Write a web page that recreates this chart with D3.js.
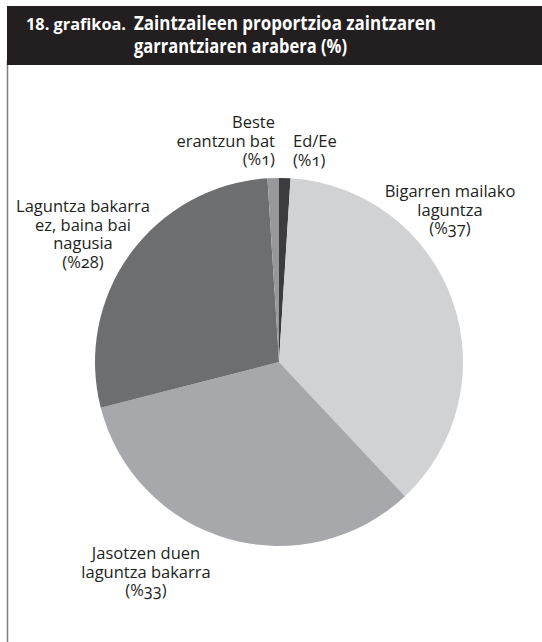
<!DOCTYPE html>
<html>
<head>
<meta charset="utf-8">
<script src="https://cdn.jsdelivr.net/npm/d3@7"></script>
<style>
  html, body { margin: 0; padding: 0; background: #fff; }
  svg { display: block; }
  .lbl { font-family: "Open Sans", "Noto Sans", sans-serif; font-size: 16.5px; fill: #231f20; font-variant-numeric: oldstyle-nums; }
</style>
</head>
<body>
<script>
// ---- data ----
const categories = ["Ed/Ee", "Bigarren mailako laguntza", "Jasotzen duen laguntza bakarra", "Laguntza bakarra ez, baina bai nagusia", "Beste erantzun bat"];
const values = [1, 37, 33, 28, 1];
const labelLines = [
  ["Ed/Ee", "(%1)"],
  ["Bigarren mailako", "laguntza", "(%37)"],
  ["Jasotzen duen", "laguntza bakarra", "(%33)"],
  ["Laguntza bakarra", "ez, baina bai", "nagusia", "(%28)"],
  ["Beste", "erantzun bat", "(%1)"]
];
const titleNumber = "18. grafikoa.";
const titleLines = ["Zaintzaileen proportzioa zaintzaren", "garrantziaren arabera (%)"];

// ---- layout / style (kept separate from data) ----
const W = 542, H = 642;
const colors = ["#3c3c3e", "#d1d2d4", "#a7a8ab", "#6d6e70", "#97989b"];
const labelLayout = [
  { x: 293, y: 147, anchor: "start" },
  { x: 450, y: 197, anchor: "middle" },
  { x: 146, y: 559, anchor: "middle" },
  { x: 83,  y: 212, anchor: "middle" },
  { x: 275, y: 128, anchor: "end" }
];
const lineH = 18.5;

const svg = d3.select("body").append("svg").attr("width", W).attr("height", H);

// frame: left rule and dark title bar
svg.append("line").attr("x1", 7.5).attr("x2", 7.5).attr("y1", 60).attr("y2", H)
  .attr("stroke", "#808080").attr("stroke-width", 1.5);
svg.append("rect").attr("x", 7).attr("y", 6).attr("width", W - 7).attr("height", 59).attr("fill", "#231f20");

const tf = '"Open Sans", "Noto Sans", sans-serif';
svg.append("text").attr("x", 26).attr("y", 30).attr("fill", "#fff")
  .attr("font-family", tf).attr("font-weight", 700).attr("font-size", 15.5)
  .attr("textLength", 100).attr("lengthAdjust", "spacingAndGlyphs")
  .text(titleNumber);
const tl = [302, 213];
titleLines.forEach((t, i) => {
  svg.append("text").attr("x", 134).attr("y", 30 + i * 23).attr("fill", "#fff")
    .attr("font-family", tf).attr("font-weight", 700).attr("font-size", 20)
    .attr("textLength", tl[i]).attr("lengthAdjust", "spacingAndGlyphs")
    .text(t);
});

// pie
const cx = 279, cy = 362, r = 184;
const pie = d3.pie().sort(null).value(d => d)(values);
const arc = d3.arc().innerRadius(0).outerRadius(r);
const g = svg.append("g").attr("transform", `translate(${cx},${cy})`);
g.selectAll("path").data(pie).join("path")
  .attr("d", arc)
  .attr("fill", (d, i) => colors[i]);

// labels (one text element per line)
labelLines.forEach((lines, i) => {
  const L = labelLayout[i];
  lines.forEach((s, j) => {
    svg.append("text").attr("class", "lbl").attr("text-anchor", L.anchor)
      .attr("x", L.x).attr("y", L.y + j * lineH).text(s);
  });
});
</script>
</body>
</html>
